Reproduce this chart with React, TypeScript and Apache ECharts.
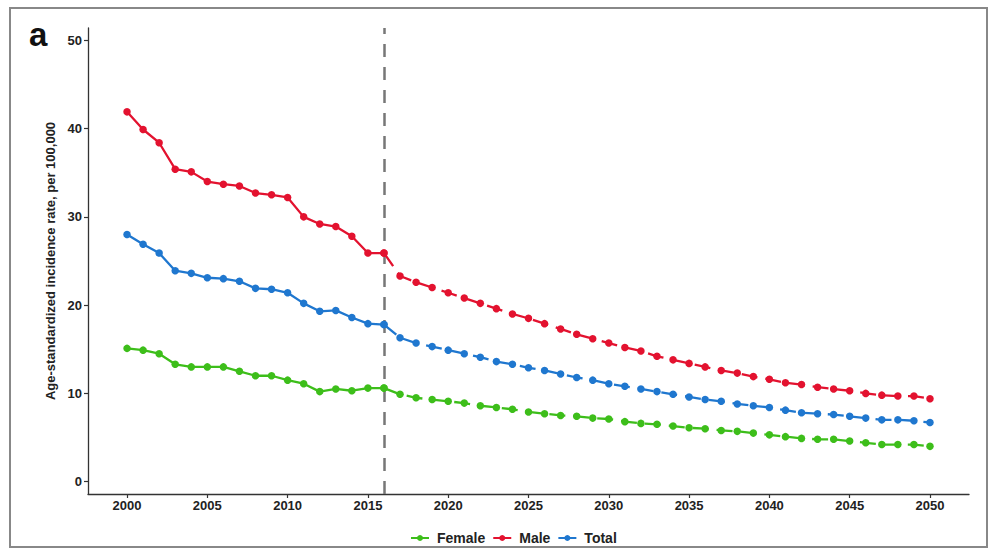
import React, { useEffect, useRef } from "react";
import * as echarts from "echarts";

const histYears = [2000, 2001, 2002, 2003, 2004, 2005, 2006, 2007, 2008, 2009, 2010, 2011, 2012, 2013, 2014, 2015, 2016];
const foreYears = [2016, 2017, 2018, 2019, 2020, 2021, 2022, 2023, 2024, 2025, 2026, 2027, 2028, 2029, 2030, 2031, 2032, 2033, 2034, 2035, 2036, 2037, 2038, 2039, 2040, 2041, 2042, 2043, 2044, 2045, 2046, 2047, 2048, 2049, 2050];

const femaleHist = [15.1, 14.9, 14.5, 13.3, 13.0, 13.0, 13.0, 12.5, 12.0, 12.0, 11.5, 11.1, 10.2, 10.5, 10.3, 10.6, 10.6];
const femaleFore = [10.6, 9.9, 9.5, 9.3, 9.1, 8.9, 8.6, 8.4, 8.2, 7.9, 7.7, 7.5, 7.4, 7.2, 7.1, 6.8, 6.6, 6.5, 6.3, 6.1, 6.0, 5.8, 5.7, 5.5, 5.3, 5.1, 4.9, 4.8, 4.8, 4.6, 4.4, 4.2, 4.2, 4.2, 4.0];

const maleHist = [41.9, 39.9, 38.4, 35.4, 35.1, 34.0, 33.7, 33.5, 32.7, 32.5, 32.2, 30.0, 29.2, 28.9, 27.8, 25.9, 25.9];
const maleFore = [25.9, 23.3, 22.6, 22.0, 21.4, 20.8, 20.2, 19.6, 19.0, 18.5, 17.9, 17.3, 16.7, 16.2, 15.7, 15.2, 14.8, 14.2, 13.8, 13.4, 13.0, 12.6, 12.3, 11.9, 11.6, 11.2, 11.0, 10.7, 10.5, 10.3, 10.0, 9.8, 9.7, 9.7, 9.4];

const totalHist = [28.0, 26.9, 25.9, 23.9, 23.6, 23.1, 23.0, 22.7, 21.9, 21.8, 21.4, 20.2, 19.3, 19.4, 18.6, 17.9, 17.8];
const totalFore = [17.8, 16.3, 15.7, 15.3, 14.9, 14.5, 14.1, 13.6, 13.3, 12.9, 12.6, 12.2, 11.8, 11.5, 11.1, 10.8, 10.5, 10.2, 9.9, 9.6, 9.3, 9.1, 8.8, 8.6, 8.4, 8.1, 7.8, 7.7, 7.6, 7.4, 7.2, 7.0, 7.0, 6.9, 6.7];

const xTicks = [2000, 2005, 2010, 2015, 2020, 2025, 2030, 2035, 2040, 2045, 2050];
const yTicks = [0, 10, 20, 30, 40, 50];
const cutYear = 2016;

const seriesNames = ["Female", "Male", "Total"];
const seriesColors = ["#3DBE1A", "#E3122F", "#1F77CF"];

const FONT = "'Liberation Sans', Arial, sans-serif";

function pairs(xs: number[], ys: number[]) {
  return xs.map((x, i) => [x, ys[i]]);
}

export default function App() {
  const ref = useRef<HTMLDivElement>(null);
  useEffect(() => {
    if (!ref.current) return;
    const chart = echarts.init(ref.current, null, { renderer: "svg" });
    const hist = [femaleHist, maleHist, totalHist];
    const fore = [femaleFore, maleFore, totalFore];
    const series: any[] = [];
    seriesNames.forEach((name, i) => {
      series.push({
        name,
        type: "line",
        data: pairs(histYears, hist[i]),
        symbol: "circle",
        symbolSize: 7.5,
        showAllSymbol: true,
        lineStyle: { color: seriesColors[i], width: 2.3 },
        itemStyle: { color: seriesColors[i] },
        emphasis: { disabled: true },
        z: 3,
      });
      series.push({
        name,
        type: "line",
        data: pairs(foreYears, fore[i]),
        symbol: "circle",
        symbolSize: 7.5,
        showAllSymbol: true,
        lineStyle: { color: seriesColors[i], width: 2.3, type: [16, 8] },
        itemStyle: { color: seriesColors[i] },
        emphasis: { disabled: true },
        z: 3,
      });
    });
    series[0].markLine = {
      silent: true,
      symbol: "none",
      label: { show: false },
      lineStyle: { color: "#777", width: 2.5, type: [13, 10] },
      data: [{ xAxis: cutYear }],
      z: 1,
    };

    const plain = (v: number) => String(v);

    chart.setOption({
      animation: false,
      textStyle: { fontFamily: FONT },
      grid: { left: 88, right: 31, top: 28, bottom: 63, containLabel: false },
      legend: {
        data: seriesNames,
        left: 405,
        top: 526,
        itemWidth: 18,
        itemHeight: 7.5,
        itemGap: 7,
        textStyle: {
          fontFamily: FONT,
          fontSize: 14,
          fontWeight: "bold",
          color: "#222",
          padding: [0, 0, 0, 3],
        },
        selectedMode: false,
      },
      xAxis: {
        type: "value",
        min: 1997.57,
        max: 2052.43,
        axisLine: { onZero: false, lineStyle: { color: "#333", width: 1.3 } },
        axisTick: { show: true, length: 4, customValues: xTicks, lineStyle: { color: "#333", width: 1.2 } },
        axisLabel: {
          customValues: xTicks,
          formatter: plain,
          margin: 5,
          fontSize: 13,
          fontWeight: "bold",
          color: "#222",
          fontFamily: FONT,
        },
        splitLine: { show: false },
      },
      yAxis: {
        type: "value",
        min: -1.4,
        max: 51.4,
        name: "Age-standardized incidence rate, per 100,000",
        nameLocation: "middle",
        nameGap: 29,
        nameTextStyle: { fontSize: 13, fontWeight: "bold", color: "#222", fontFamily: FONT },
        axisLine: { show: true, onZero: false, lineStyle: { color: "#333", width: 1.3 } },
        axisTick: { show: true, length: 4, customValues: yTicks, lineStyle: { color: "#333", width: 1.2 } },
        axisLabel: {
          customValues: yTicks,
          formatter: plain,
          margin: 6,
          fontSize: 13,
          fontWeight: "bold",
          color: "#222",
          fontFamily: FONT,
        },
        splitLine: { show: false },
      },
      graphic: [
        {
          type: "rect",
          shape: { x: 10, y: 8, width: 977, height: 539 },
          style: { fill: "none", stroke: "#888", lineWidth: 2 },
          silent: true,
          z: -1,
        },
        {
          type: "text",
          left: 29,
          top: 18,
          style: { text: "a", fontSize: 33, fontWeight: "bold", fill: "#111", fontFamily: FONT },
          silent: true,
        },
      ],
      series,
    });
    return () => chart.dispose();
  }, []);
  return (
    <div
      ref={ref}
      style={{ position: "fixed", left: 0, top: 0, width: 1000, height: 557, background: "#fff" }}
    />
  );
}
